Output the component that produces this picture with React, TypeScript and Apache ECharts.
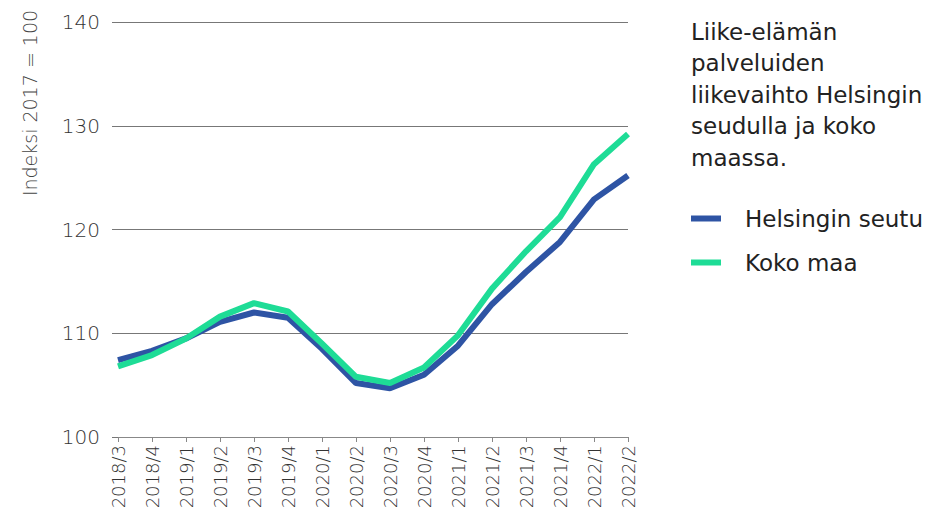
import React, { useEffect, useRef } from "react";
import * as echarts from "echarts";

const categories = [
  "2018/3", "2018/4", "2019/1", "2019/2", "2019/3", "2019/4", "2020/1", "2020/2",
  "2020/3", "2020/4", "2021/1", "2021/2", "2021/3", "2021/4", "2022/1", "2022/2",
];
const helsinginSeutu = [107.4, 108.3, 109.5, 111.1, 112.0, 111.5, 108.5, 105.2, 104.7, 106.0, 108.8, 112.8, 115.9, 118.8, 122.9, 125.2];
const kokoMaa = [106.8, 107.9, 109.5, 111.6, 112.9, 112.1, 109.0, 105.8, 105.2, 106.7, 109.8, 114.3, 117.9, 121.2, 126.3, 129.2];
const titleLines = ["Liike-elämän", "palveluiden", "liikevaihto Helsingin", "seudulla ja koko", "maassa."];
const yTicks = { min: 100, max: 140, interval: 10 };

const FONT = "'DejaVu Sans', sans-serif";

export default function App() {
  const ref = useRef<HTMLDivElement>(null);
  useEffect(() => {
    if (!ref.current) return;
    const chart = echarts.init(ref.current, null, { renderer: "svg" });
    chart.setOption({
      animation: false,
      textStyle: { fontFamily: FONT },
      grid: { left: 118, right: 300, top: 22, bottom: 76 },
      legend: {
        orient: "vertical",
        left: 691,
        top: 207,
        padding: 0,
        icon: "rect",
        itemWidth: 30,
        itemHeight: 6,
        itemGap: 21,
        textStyle: { fontSize: 23, color: "#222", fontFamily: FONT, padding: [0, 0, 0, 19] },
        data: ["Helsingin seutu", "Koko maa"],
      },
      graphic: [
        {
          type: "text",
          left: 691,
          top: 16,
          style: {
            text: titleLines.join("\n"),
            fontSize: 23,
            lineHeight: 31.5,
            fill: "#222",
            fontFamily: FONT,
          },
        },
        {
          type: "text",
          x: 30,
          y: 103,
          rotation: Math.PI / 2,
          style: {
            text: "Indeksi 2017 = 100",
            fontSize: 19,
            fill: "#444",
            align: "center",
            verticalAlign: "middle",
            fontFamily: FONT,
            fontWeight: 300,
          },
        },
      ],
      xAxis: {
        type: "category",
        data: categories,
        boundaryGap: false,
        axisLine: { lineStyle: { color: "#888", width: 1 } },
        axisTick: { show: true, length: 5, lineStyle: { color: "#888" }, alignWithLabel: true },
        axisLabel: {
          rotate: 90,
          fontSize: 18,
          color: "#333",
          margin: 8,
          interval: 0,
          fontFamily: FONT,
          fontWeight: 300,
        },
      },
      yAxis: {
        type: "value",
        min: yTicks.min,
        max: yTicks.max,
        interval: yTicks.interval,
        axisLine: { show: false },
        axisTick: { show: true, length: 6, lineStyle: { color: "#777" } },
        splitLine: { lineStyle: { color: "#777", width: 1 } },
        axisLabel: {
          fontSize: 20,
          color: "#333",
          margin: 18,
          fontFamily: FONT,
          fontWeight: 300,
        },
      },
      series: [
        {
          name: "Helsingin seutu",
          type: "line",
          data: helsinginSeutu,
          symbol: "none",
          lineStyle: { width: 6, color: "#2E54A4" },
          itemStyle: { color: "#2E54A4" },
          z: 2,
        },
        {
          name: "Koko maa",
          type: "line",
          data: kokoMaa,
          symbol: "none",
          lineStyle: { width: 6, color: "#1EDC96" },
          itemStyle: { color: "#1EDC96" },
          z: 3,
        },
      ],
    });
    return () => chart.dispose();
  }, []);
  return <div ref={ref} style={{ width: 928, height: 513, position: "absolute", left: 0, top: 0 }} />;
}
